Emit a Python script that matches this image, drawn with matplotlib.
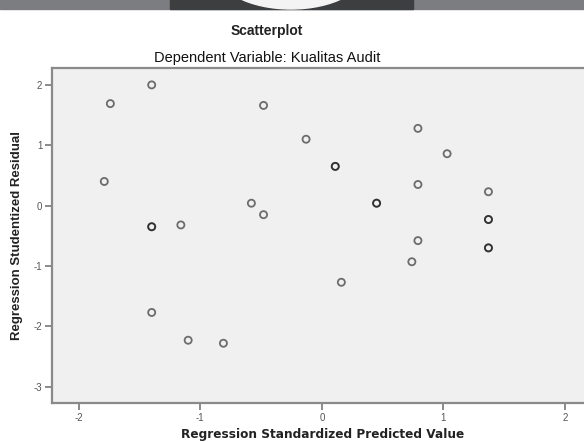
import matplotlib
matplotlib.use('Agg')
import matplotlib.pyplot as plt
from matplotlib.patches import Rectangle, Ellipse

# data (duplicated cases appear twice -> darker ring)
pred = [-1.74, -1.40, -1.79, -1.40, -1.40, -1.16, -1.40, -1.10, -0.81,
        -0.48, -0.58, -0.48, -0.13, 0.11, 0.11, 0.45, 0.45, 0.16,
        0.79, 1.03, 0.79, 1.37, 1.37, 1.37, 1.37, 1.37, 0.79, 0.74]
resid = [1.69, 2.00, 0.40, -0.35, -0.35, -0.32, -1.77, -2.23, -2.28,
         1.66, 0.04, -0.15, 1.10, 0.65, 0.65, 0.04, 0.04, -1.27,
         1.28, 0.86, 0.35, 0.23, -0.23, -0.23, -0.70, -0.70, -0.58, -0.93]

xticks = [-2, -1, 0, 1, 2]
yticks = [-3, -2, -1, 0, 1, 2]

plt.rcParams['font.family'] = ['Liberation Sans', 'DejaVu Sans']
plt.rcParams['axes.unicode_minus'] = False

fig = plt.figure(figsize=(5.84, 4.42), dpi=100)
W, H = 584, 442

# dark band at the top of the screenshot
fig.patches.append(Rectangle((0, 1 - 9 / H), 1, 9 / H, transform=fig.transFigure,
                             color='#7b7d80', zorder=0))
fig.patches.append(Rectangle((170 / W, 1 - 9 / H), 243 / W, 9 / H, transform=fig.transFigure,
                             color='#3c3e40', zorder=1))
fig.patches.append(Ellipse((291 / W, 1 + 30 / H), 150 / W, 78 / H, transform=fig.transFigure,
                           color='#f4f4f4', zorder=2))

ax = fig.add_axes([52 / W, 39 / H, 1 - 52 / W, (403 - 68) / H])
ax.set_facecolor('#f0f0f0')
ax.scatter(pred, resid, s=26, facecolors='none', edgecolors='black',
           linewidths=1.3, alpha=0.55)

ax.set_xlim(-2.22, 2.156)
ax.set_ylim(-3.27, 2.28)
ax.set_xticks(xticks)
ax.set_yticks(yticks)
ax.tick_params(direction='out', length=5, width=1.2, color='#777777',
               labelsize=7, labelcolor='#555555', pad=2)

for s in ['left', 'bottom', 'top']:
    ax.spines[s].set_color('#8a8a8a')
    ax.spines[s].set_linewidth(1.6)
ax.spines['right'].set_visible(False)

ax.set_xlabel('Regression Standardized Predicted Value', fontsize=8.7,
              fontweight='bold', family='DejaVu Sans', color='#222222')
ax.xaxis.set_label_coords((323 - 52) / (W - 52), -0.075)
ax.set_ylabel('Regression Studentized Residual', fontsize=9.5,
              fontweight='bold', color='#222222', labelpad=8)

fig.text(267 / W, 1 - 31 / H, 'Scatterplot', ha='center', va='center',
         fontsize=10, fontweight='bold', color='#222222')
fig.text(267 / W, 1 - 58 / H, 'Dependent Variable: Kualitas Audit', ha='center',
         va='center', fontsize=10.5, color='#111111')

fig.savefig('out.png', dpi=100)
